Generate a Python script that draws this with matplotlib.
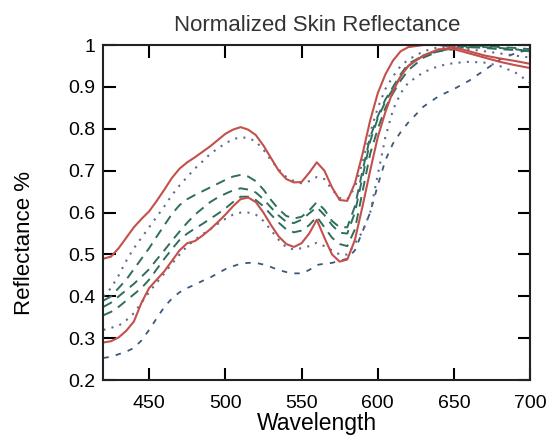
from matplotlib import pyplot as plt

plt.rcParams["font.family"] = ["Liberation Sans", "DejaVu Sans"]

wavelength = [420, 425, 430, 435, 440, 445, 450, 455, 460, 465,
              470, 475, 480, 485, 490, 495, 500, 505, 510, 515,
              520, 525, 530, 535, 540, 545, 550, 555, 560, 565,
              570, 575, 580, 585, 590, 595, 600, 605, 610, 615,
              620, 630, 640, 650, 660, 670, 680, 690, 700]

red_top = [0.49, 0.495, 0.515, 0.54, 0.565, 0.585, 0.603, 0.628, 0.655, 0.683,
           0.705, 0.72, 0.732, 0.745, 0.758, 0.773, 0.788, 0.798, 0.804, 0.798,
           0.785, 0.76, 0.73, 0.70, 0.68, 0.672, 0.673, 0.695, 0.72, 0.70,
           0.66, 0.63, 0.628, 0.67, 0.74, 0.82, 0.885, 0.93, 0.963, 0.985,
           0.995, 1.0, 1.0, 0.995, 0.985, 0.975, 0.968, 0.962, 0.955]
dot_top = [0.40, 0.42, 0.45, 0.485, 0.515, 0.54, 0.565, 0.59, 0.615, 0.642,
           0.665, 0.685, 0.705, 0.722, 0.74, 0.753, 0.765, 0.775, 0.78, 0.778,
           0.77, 0.75, 0.725, 0.703, 0.685, 0.675, 0.67, 0.675, 0.685, 0.68,
           0.655, 0.635, 0.632, 0.66, 0.72, 0.79, 0.85, 0.895, 0.925, 0.95,
           0.965, 0.985, 0.995, 0.995, 0.99, 0.985, 0.98, 0.975, 0.97]
green_1 = [0.39, 0.40, 0.42, 0.44, 0.465, 0.49, 0.515, 0.543, 0.57, 0.597,
           0.618, 0.632, 0.642, 0.651, 0.66, 0.669, 0.678, 0.686, 0.69, 0.686,
           0.675, 0.655, 0.63, 0.608, 0.592, 0.586, 0.59, 0.605, 0.625, 0.607,
           0.58, 0.565, 0.565, 0.615, 0.70, 0.78, 0.83, 0.87, 0.90, 0.93,
           0.955, 0.975, 0.988, 0.995, 0.998, 0.998, 0.995, 0.993, 0.99]
green_2 = [0.375, 0.385, 0.40, 0.415, 0.43, 0.447, 0.465, 0.488, 0.51, 0.533,
           0.555, 0.576, 0.595, 0.61, 0.625, 0.636, 0.645, 0.653, 0.658, 0.655,
           0.648, 0.632, 0.612, 0.593, 0.578, 0.575, 0.583, 0.598, 0.613, 0.594,
           0.57, 0.552, 0.55, 0.60, 0.685, 0.77, 0.825, 0.865, 0.895, 0.925,
           0.95, 0.975, 0.985, 0.99, 0.995, 0.995, 0.993, 0.99, 0.985]
green_3 = [0.355, 0.363, 0.375, 0.39, 0.405, 0.42, 0.44, 0.465, 0.49, 0.513,
           0.535, 0.55, 0.562, 0.573, 0.585, 0.597, 0.61, 0.625, 0.638, 0.638,
           0.63, 0.615, 0.595, 0.576, 0.56, 0.553, 0.557, 0.57, 0.59, 0.565,
           0.54, 0.525, 0.52, 0.56, 0.65, 0.74, 0.80, 0.85, 0.885, 0.915,
           0.94, 0.97, 0.985, 0.993, 0.995, 0.993, 0.99, 0.988, 0.985]
red_bottom = [0.29, 0.293, 0.302, 0.318, 0.34, 0.385, 0.42, 0.44, 0.46, 0.485,
              0.51, 0.527, 0.532, 0.545, 0.56, 0.577, 0.595, 0.615, 0.632, 0.636,
              0.625, 0.60, 0.57, 0.543, 0.525, 0.518, 0.527, 0.55, 0.583, 0.54,
              0.50, 0.483, 0.488, 0.535, 0.615, 0.70, 0.78, 0.84, 0.89, 0.925,
              0.95, 0.975, 0.99, 0.99, 0.98, 0.97, 0.96, 0.952, 0.945]
dot_bottom = [0.32, 0.325, 0.33, 0.343, 0.36, 0.385, 0.41, 0.433, 0.455, 0.478,
              0.50, 0.52, 0.535, 0.548, 0.56, 0.573, 0.585, 0.595, 0.60, 0.60,
              0.595, 0.58, 0.558, 0.535, 0.517, 0.512, 0.515, 0.52, 0.528, 0.52,
              0.51, 0.50, 0.50, 0.525, 0.555, 0.60, 0.69, 0.78, 0.845, 0.885,
              0.91, 0.935, 0.95, 0.957, 0.96, 0.958, 0.95, 0.935, 0.91]
blue_dash = [0.253, 0.256, 0.262, 0.268, 0.277, 0.295, 0.32, 0.348, 0.375, 0.395,
             0.41, 0.42, 0.428, 0.437, 0.445, 0.455, 0.465, 0.472, 0.478, 0.48,
             0.48, 0.476, 0.47, 0.463, 0.458, 0.455, 0.455, 0.463, 0.475, 0.478,
             0.48, 0.485, 0.49, 0.51, 0.555, 0.60, 0.665, 0.725, 0.765, 0.792,
             0.815, 0.853, 0.878, 0.895, 0.915, 0.94, 0.965, 0.98, 0.99]

red = "#c4504c"
green = "#2f6e5c"
dotc = "#5f6a8c"
blue = "#3d5878"

fig = plt.figure(figsize=(5.5, 4.37), dpi=100)
ax = fig.add_axes([0.188, 0.130, 0.776, 0.767])

ax.plot(wavelength, blue_dash, color=blue, lw=1.3, linestyle=(0, (3, 4)))
ax.plot(wavelength, dot_bottom, color=dotc, lw=1.5, linestyle=(0, (1, 3)))
ax.plot(wavelength, green_3, color=green, lw=1.4, linestyle=(0, (5, 3.5)))
ax.plot(wavelength, green_2, color=green, lw=1.4, linestyle=(0, (5, 3.5)))
ax.plot(wavelength, green_1, color=green, lw=1.4, linestyle=(0, (5, 3.5)))
ax.plot(wavelength, dot_top, color=dotc, lw=1.5, linestyle=(0, (1, 3)))
ax.plot(wavelength, red_bottom, color=red, lw=1.5)
ax.plot(wavelength, red_top, color=red, lw=1.5)

ax.set_xlim(420, 700)
ax.set_ylim(0.2, 1.0)
ax.set_xticks([450, 500, 550, 600, 650, 700])
ax.set_yticks([0.2, 0.3, 0.4, 0.5, 0.6, 0.7, 0.8, 0.9, 1.0])
ax.set_yticklabels(["0.2", "0.3", "0.4", "0.5", "0.6", "0.7", "0.8", "0.9", "1"])

ax.tick_params(direction="in", length=9, width=1.5, top=True, right=True, labelsize=14)
ax.tick_params(axis="x", pad=11)
ax.tick_params(axis="y", pad=6)
for s in ax.spines.values():
    s.set_linewidth(1.5)
    s.set_color("#222222")

ax.set_title("Normalized Skin Reflectance", fontsize=16, pad=10, color="#333333")
ax.set_xlabel("Wavelength", fontsize=16.5, labelpad=0)
ax.set_ylabel("Reflectance %", fontsize=16)
ax.yaxis.set_label_coords(-0.16, 0.41)

plt.savefig("out.png", dpi=100)
